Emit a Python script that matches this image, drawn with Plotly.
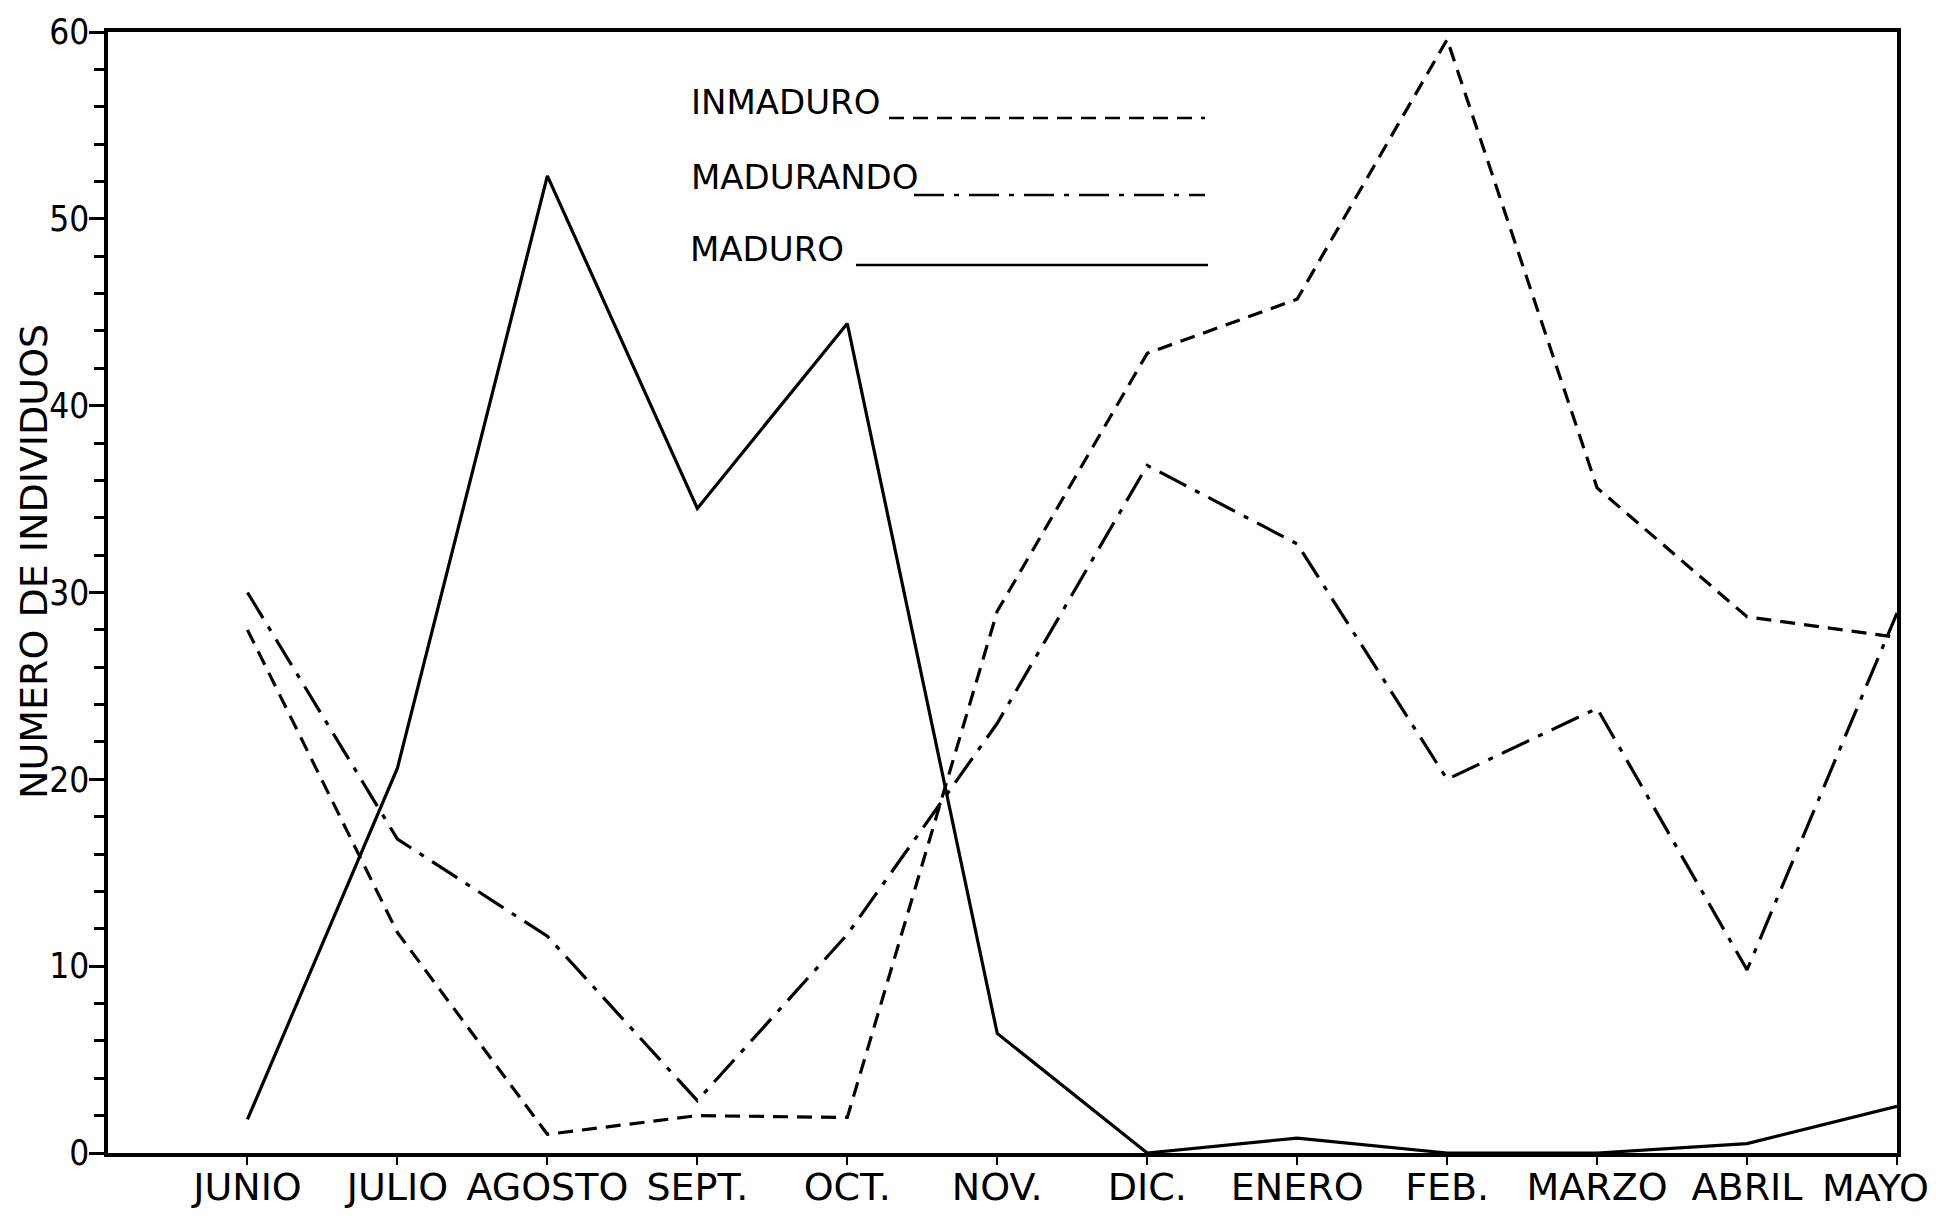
import plotly.graph_objects as go

months = ["JUNIO", "JULIO", "AGOSTO", "SEPT.", "OCT.", "NOV.", "DIC.",
          "ENERO", "FEB.", "MARZO", "ABRIL", "MAYO"]
inmaduro = [28, 11.8, 1.0, 2.0, 1.9, 29, 42.8, 45.7, 59.6, 35.6, 28.7, 27.6]
madurando = [30, 16.8, 11.6, 2.8, 11.7, 23, 36.8, 32.6, 20, 23.8, 9.8, 28.9]
maduro = [1.8, 20.6, 52.3, 34.5, 44.4, 6.4, 0, 0.8, 0, 0, 0.5, 2.5]

series_names = ["INMADURO", "MADURANDO", "MADURO"]
y_ticks = [0, 10, 20, 30, 40, 50, 60]
y_title = "NUMERO DE INDIVIDUOS"

FONT = "DejaVu Sans, Roboto, sans-serif"
FONT_C = "DejaVu Sans Condensed, DejaVu Sans, sans-serif"
dashes = ["15px,9px", "30px,10px,5px,10px", "solid"]

W, H = 1936, 1225
ML, MR, MT, MB = 108, 39, 32, 72

fig = go.Figure()
xs = list(range(len(months)))
for name, vals, d in zip(series_names, [inmaduro, madurando, maduro], dashes):
    fig.add_trace(go.Scatter(x=xs, y=vals, mode="lines", name=name,
                             line=dict(color="black", width=3.2, dash=d),
                             showlegend=False, cliponaxis=False))

# the last month label sits left of its tick in the original (it is at the frame edge),
# so it is written as an annotation anchored to that tick
tick_text = months[:-1] + [""]

fig.update_layout(
    width=W, height=H,
    margin=dict(l=ML, r=MR, t=MT, b=MB, autoexpand=False),
    paper_bgcolor="white", plot_bgcolor="white",
    font=dict(family=FONT, color="black", size=36),
    xaxis=dict(range=[-0.93, 11], tickmode="array", tickvals=xs, ticktext=tick_text,
               showgrid=False, zeroline=False, showline=True, linecolor="black",
               linewidth=3.5, mirror=True, ticks="outside", ticklen=8, tickwidth=2,
               tickcolor="black", tickfont=dict(size=38, family=FONT),
               ticklabelstandoff=-10,
               ticklabeloverflow="allow", automargin=False),
    yaxis=dict(range=[0, 60], tickmode="array", tickvals=y_ticks,
               showgrid=False, zeroline=False, showline=True, linecolor="black",
               linewidth=3.5, mirror=True, ticks="outside", ticklen=15, tickwidth=2.5,
               tickcolor="black", tickfont=dict(size=35, family=FONT_C),
               ticklabelstandoff=-7,
               ticklabeloverflow="allow", automargin=False,
               minor=dict(dtick=2, ticks="outside", ticklen=10, tickwidth=2.5, tickcolor="black")),
)

fig.add_annotation(x=xs[-1], y=0, xref="x", yref="paper", text=months[-1],
                   showarrow=False, xanchor="center", yanchor="middle",
                   xshift=-22, yshift=-35, font=dict(size=38, family=FONT))

def px(x):
    return (x - ML) / (W - ML - MR)
def py(y):
    return (H - MB - y) / (H - MT - MB)

# y-axis title placed as rotated text
fig.add_annotation(x=px(34), y=py(562), xref="paper", yref="paper", text=y_title,
                   showarrow=False, textangle=-90, xanchor="center", yanchor="middle",
                   font=dict(size=38, family=FONT))

# legend block (text + long line samples)
leg = [
    ("INMADURO", 689, 102, 889, 1205, 118, dashes[0]),
    ("MADURANDO", 689, 177, 914, 1205, 195, dashes[1]),
    ("MADURO", 688, 249, 856, 1208, 265, dashes[2]),
]
for text, tx, ty, x0, x1, ly, d in leg:
    fig.add_annotation(x=px(tx), y=py(ty), xref="paper", yref="paper", text=text,
                       showarrow=False, xanchor="left", yanchor="middle",
                       font=dict(size=34, family=FONT))
    fig.add_shape(type="line", xref="paper", yref="paper",
                  x0=px(x0), x1=px(x1), y0=py(ly), y1=py(ly),
                  line=dict(color="black", width=2.6, dash=d))

fig.write_html("out.html")
